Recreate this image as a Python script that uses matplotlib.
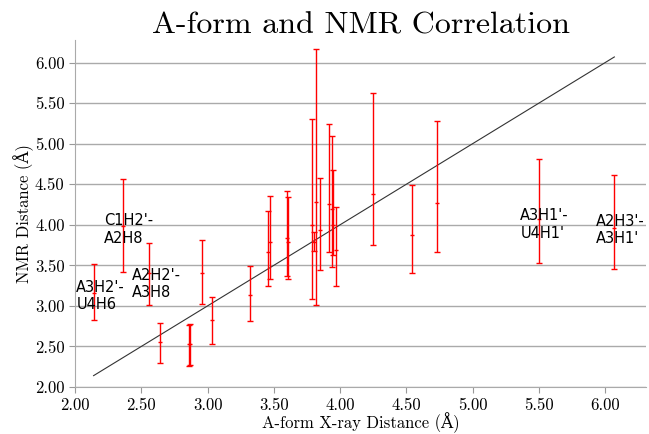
import matplotlib
matplotlib.use("Agg")
import matplotlib.pyplot as plt
from matplotlib.ticker import FormatStrFormatter, MultipleLocator

plt.rcParams['font.family'] = ['cmr10', 'DejaVu Serif']
plt.rcParams['mathtext.fontset'] = 'cm'
plt.rcParams['axes.formatter.use_mathtext'] = True

# A-form x-ray distance vs NMR distance (centre, lower, upper bound)
xray = [2.14, 2.36, 2.56, 2.64, 2.86, 2.87, 2.96, 3.03, 3.32, 3.46, 3.47,
        3.60, 3.61, 3.79, 3.80, 3.82, 3.85, 3.92, 3.94, 3.95, 3.97,
        4.25, 4.54, 4.73, 5.50, 6.07]
nmr = [3.16, 3.99, 3.40, 2.56, 2.53, 2.53, 3.41, 2.83, 3.14, 3.67, 3.79,
       3.84, 3.79, 4.00, 3.79, 4.28, 3.93, 4.26, 4.20, 4.00, 3.69,
       4.38, 3.88, 4.27, 4.07, 3.96]
nmr_low = [2.83, 3.42, 3.01, 2.30, 2.26, 2.27, 3.02, 2.53, 2.81, 3.24, 3.33,
           3.37, 3.33, 3.08, 3.68, 3.01, 3.44, 3.66, 3.48, 3.63, 3.25,
           3.75, 3.40, 3.67, 3.53, 3.46]
nmr_high = [3.52, 4.56, 3.78, 2.79, 2.77, 2.78, 3.81, 3.11, 3.49, 4.17, 4.36,
            4.42, 4.34, 5.30, 3.91, 6.17, 4.58, 5.24, 5.10, 4.67, 4.22,
            5.63, 4.49, 5.28, 4.81, 4.62]

labels = ["A3H2'-\nU4H6", "C1H2'-\nA2H8", "A2H2'-\nA3H8", "A3H1'-\nU4H1'", "A2H3'-\nA3H1'"]
label_x = [2.01, 2.22, 2.43, 5.36, 5.93]
label_y = [2.96, 3.78, 3.11, 3.84, 3.77]

fig = plt.figure(figsize=(6.49, 4.34), dpi=100)
ax = fig.add_axes([0.1156, 0.1083, 0.88, 0.7997])

yerr = [[c - l for c, l in zip(nmr, nmr_low)], [h - c for c, h in zip(nmr, nmr_high)]]
line, caps, bars = ax.errorbar(xray, nmr, yerr=yerr, fmt='none', ecolor='red',
                               elinewidth=1, capsize=2.5, capthick=1, zorder=3)
for c in caps:
    c.set_color('#222222')
ax.plot(xray, nmr, linestyle='none', marker='_', color='red', markersize=2.5, zorder=4)

lo = min(xray)
hi = max(xray)
ax.plot([lo, hi], [lo, hi], color='#333333', linewidth=0.8, zorder=2)

for t, tx, ty in zip(labels, label_x, label_y):
    ax.text(tx, ty, t, fontsize=10.5, family='DejaVu Sans', color='black', zorder=5)

ax.set_xlim(2.0, 6.31)
ax.set_ylim(2.0, 6.28)
ax.xaxis.set_major_locator(MultipleLocator(0.5))
ax.yaxis.set_major_locator(MultipleLocator(0.5))
ax.xaxis.set_major_formatter(FormatStrFormatter('%.2f'))
ax.yaxis.set_major_formatter(FormatStrFormatter('%.2f'))
ax.tick_params(labelsize=12, color='#999999', length=4)
ax.grid(axis='y', color='#aaaaaa', linewidth=1)
ax.set_axisbelow(True)
for s in ['top', 'right']:
    ax.spines[s].set_visible(False)
for s in ['left', 'bottom']:
    ax.spines[s].set_color('#aaaaaa')

ax.set_title('A-form and NMR Correlation', fontsize=23, pad=0)
ax.set_xlabel('A-form X-ray Distance (Å)', fontsize=12, labelpad=0)
ax.set_ylabel('NMR Distance (Å)', fontsize=12, labelpad=1)

fig.savefig('out.png', dpi=100)
